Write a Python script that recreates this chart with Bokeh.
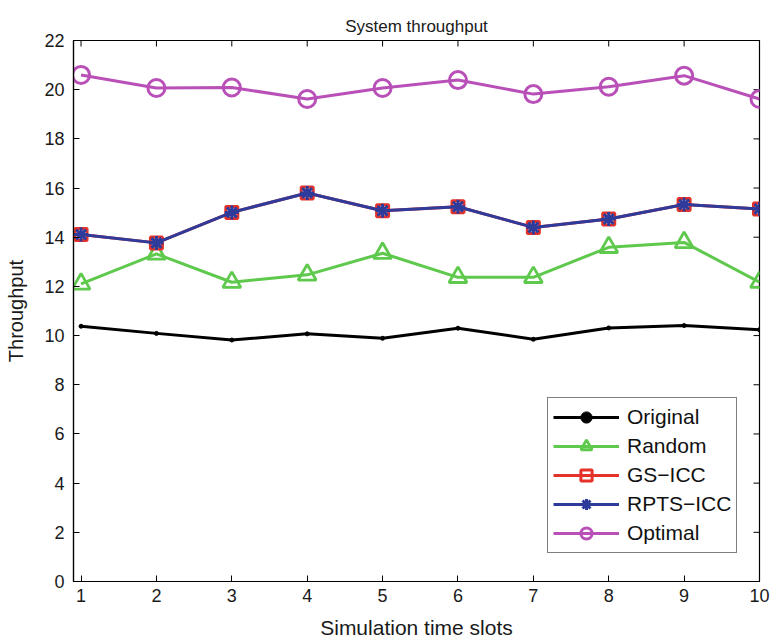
import math
from bokeh.plotting import figure
from bokeh.models import Range1d, FixedTicker, Legend, LegendItem
from bokeh.embed import file_html
from bokeh.resources import INLINE

slots = [1, 2, 3, 4, 5, 6, 7, 8, 9, 10]
original = [10.38, 10.09, 9.82, 10.07, 9.89, 10.30, 9.85, 10.31, 10.41, 10.24]
random_ = [12.10, 13.32, 12.17, 12.47, 13.35, 12.37, 12.37, 13.59, 13.79, 12.17]
gs_icc = [14.11, 13.77, 15.01, 15.80, 15.08, 15.24, 14.40, 14.74, 15.33, 15.15]
rpts_icc = [14.11, 13.77, 15.01, 15.80, 15.08, 15.24, 14.40, 14.74, 15.33, 15.15]
optimal = [20.60, 20.07, 20.09, 19.62, 20.07, 20.39, 19.82, 20.12, 20.57, 19.62]
x_ticks = [1, 2, 3, 4, 5, 6, 7, 8, 9, 10]
y_ticks = [0, 2, 4, 6, 8, 10, 12, 14, 16, 18, 20, 22]
x_lim = (0.9, 10)
y_lim = (0, 22)

FONT = "Liberation Sans"
BLACK = "#000000"
TXT = "#1a1a1a"
GREEN = "#5ec94c"
RED = "#e5332a"
BLUE = "#2e3b9b"
MAGENTA = "#b850b8"

p = figure(width=771, height=642, output_backend="svg", toolbar_location=None,
           x_range=Range1d(*x_lim), y_range=Range1d(*y_lim),
           min_border_left=73, min_border_right=12, min_border_top=40, min_border_bottom=61,
           title="System throughput")
p.title.align = "center"
p.title.text_font = FONT
p.title.text_font_size = "17px"
p.title.text_font_style = "normal"
p.title.text_color = TXT

p.xgrid.visible = False
p.ygrid.visible = False
p.outline_line_color = BLACK
p.outline_line_width = 1.2

def style_axis(ax, ticks):
    ax.ticker = FixedTicker(ticks=ticks)
    ax.major_tick_in = 6
    ax.major_tick_out = 0
    ax.minor_tick_in = 0
    ax.minor_tick_out = 0
    ax.axis_line_color = BLACK
    ax.axis_line_width = 1.2
    ax.major_tick_line_color = BLACK
    ax.major_label_text_font = FONT
    ax.major_label_text_font_size = "18px"
    ax.major_label_text_color = TXT
    ax.axis_label_text_font = FONT
    ax.axis_label_text_font_size = "20px"
    ax.axis_label_text_font_style = "normal"
    ax.axis_label_text_color = TXT

style_axis(p.xaxis[0], x_ticks)
style_axis(p.yaxis[0], y_ticks)
p.xaxis[0].axis_label = "Simulation time slots"
p.yaxis[0].axis_label = "Throughput"
p.xaxis[0].axis_label_text_font_size = "21px"
p.xaxis[0].major_label_standoff = 7
p.yaxis[0].major_label_standoff = 9
p.xaxis[0].axis_label_standoff = 11
p.yaxis[0].axis_label_standoff = 14

# mirrored inward ticks on the top and right edges of the box
p.ray(x=x_ticks, y=[y_lim[1]] * len(x_ticks), length=6, length_units="screen",
      angle=-math.pi / 2, line_color=BLACK, line_width=1)
p.ray(x=[x_lim[1]] * len(y_ticks), y=y_ticks, length=6, length_units="screen",
      angle=math.pi, line_color=BLACK, line_width=1)

LW = 3
l1 = p.line(slots, original, line_color=BLACK, line_width=LW)
m1 = p.scatter(slots, original, marker="circle", size=4, color=BLACK)

l2 = p.line(slots, random_, line_color=GREEN, line_width=LW)
m2 = p.scatter(slots, random_, marker="triangle", size=18, fill_color=None,
               line_color=GREEN, line_width=2.8)

l3 = p.line(slots, gs_icc, line_color=RED, line_width=LW)
m3 = p.scatter(slots, gs_icc, marker="square", size=12, fill_color=None,
               line_color=RED, line_width=3)

l4 = p.line(slots, rpts_icc, line_color=BLUE, line_width=LW)
m4 = p.scatter(slots, rpts_icc, marker="asterisk", size=14, line_color=BLUE, line_width=3)

l5 = p.line(slots, optimal, line_color=MAGENTA, line_width=LW)
m5 = p.scatter(slots, optimal, marker="circle", size=17, fill_color=None,
               line_color=MAGENTA, line_width=3)

legend = Legend(items=[
    LegendItem(label="Original", renderers=[l1, m1]),
    LegendItem(label="Random", renderers=[l2, m2]),
    LegendItem(label="GS\u2212ICC", renderers=[l3, m3]),
    LegendItem(label="RPTS\u2212ICC", renderers=[l4, m4]),
    LegendItem(label="Optimal", renderers=[l5, m5]),
], location=(474, 28))
legend.label_text_font = FONT
legend.label_text_font_size = "21px"
legend.label_text_color = "#111111"
legend.glyph_width = 66
legend.glyph_height = 28
legend.spacing = 1
legend.label_standoff = 8
legend.padding = 5
legend.margin = 0
legend.border_line_color = BLACK
legend.border_line_width = 1.2
legend.background_fill_alpha = 1
p.add_layout(legend, "center")

open("out.html", "w").write(file_html(p, INLINE))
